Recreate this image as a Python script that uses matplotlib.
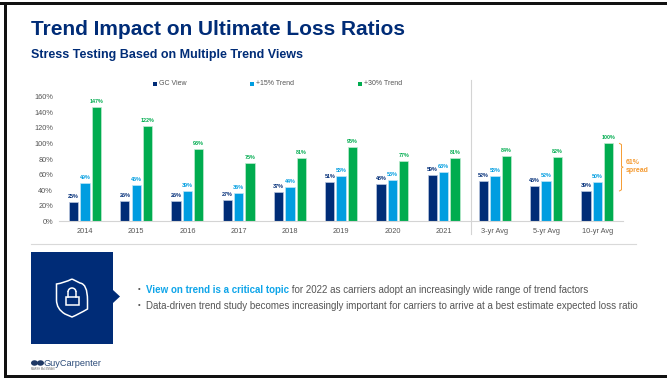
import numpy as np
import matplotlib
matplotlib.use('Agg')
import matplotlib.pyplot as plt
from matplotlib.patches import PathPatch, Rectangle, Polygon, Ellipse, Arc
from matplotlib.path import Path
from matplotlib.ticker import PercentFormatter
from matplotlib.transforms import blended_transform_factory

plt.rcParams['font.family'] = ['Liberation Sans', 'DejaVu Sans']

# Loss ratio data
categories = ['2014', '2015', '2016', '2017', '2018', '2019', '2020', '2021',
              '3-yr Avg', '5-yr Avg', '10-yr Avg']
gc_view = [25, 26, 26, 27, 37, 51, 48, 59, 52, 45, 39]
trend_15 = [49, 46, 39, 36, 44, 58, 53, 63, 58, 52, 50]
trend_30 = [147, 122, 93, 75, 81, 95, 77, 81, 84, 82, 100]
series_names = ['GC View', '+15% Trend', '+30% Trend']

NAVY = '#002C77'
BLUE = '#009DE0'
GREEN = '#00AC4F'
ORANGE = '#F59B32'
GREY = '#555555'
W, H = 667, 378

fig = plt.figure(figsize=(W / 100, H / 100), dpi=100, facecolor='white')

# Full-figure axes in pixels, used for the slide furniture
bg = fig.add_axes([0, 0, 1, 1])
bg.set_xlim(0, W)
bg.set_ylim(H, 0)
bg.axis('off')

# Slide frame
bg.add_patch(Rectangle((0, 2), W, 3, color='#111111', lw=0))
bg.add_patch(Rectangle((4, 2), 3, H, color='#111111', lw=0))
bg.add_patch(Rectangle((4, 375), W, 3, color='#111111', lw=0))

bg.text(31, 29.5, 'Trend Impact on Ultimate Loss Ratios', color=NAVY, fontsize=15.0,
        fontweight='bold', va='center', ha='left')
bg.text(31, 55, 'Stress Testing Based on Multiple Trend Views', color=NAVY, fontsize=9.02,
        fontweight='bold', va='center', ha='left')

# Legend
legend_x = [155, 252, 360]
for name, color, x in zip(series_names, [NAVY, BLUE, GREEN], legend_x):
    bg.add_patch(Rectangle((x - 2, 81.5), 4, 4, color=color, lw=0))
    bg.text(x + 4, 83.5, name, color=GREY, fontsize=5.0, va='center', ha='left')

# Dividers
bg.plot([471, 471], [80, 234], color='#d4d4d4', lw=0.8)
bg.plot([31, 636], [243.5, 243.5], color='#d9d9d9', lw=0.8)

# Blue panel with the shield and padlock
bg.add_patch(Rectangle((31, 252), 82, 92, color=NAVY, lw=0))
bg.add_patch(Polygon([(113, 290), (120, 296.5), (113, 303)], color=NAVY, lw=0))
shield = Path([(72, 279), (64, 283), (56.5, 284), (56.5, 300), (56.5, 309), (65, 314), (72, 317),
               (79, 314), (87.5, 309), (87.5, 300), (87.5, 284), (80, 283), (72, 279)],
              [Path.MOVETO, Path.CURVE3, Path.CURVE3, Path.LINETO, Path.CURVE3, Path.CURVE3, Path.LINETO,
               Path.CURVE3, Path.CURVE3, Path.LINETO, Path.CURVE3, Path.CURVE3, Path.LINETO])
bg.add_patch(PathPatch(shield, fc='none', ec='white', lw=1.1))
bg.add_patch(Rectangle((65.5, 297), 13, 8, fc='none', ec='white', lw=1.1))
bg.plot([68, 68], [297, 292], color='white', lw=1.1)
bg.plot([76, 76], [297, 292], color='white', lw=1.1)
bg.add_patch(Arc((72, 292), 8, 8, theta1=180, theta2=360, color='white', lw=1.1))

# Bullets
bg.text(138, 290, '•', color=GREY, fontsize=5.6, va='center', ha='left')
first = bg.text(146, 290, 'View on trend is a critical topic', color='#0FA5E9', fontsize=7,
                fontweight='bold', va='center', ha='left')
bg.annotate(' for 2022 as carriers adopt an increasingly wide range of trend factors', xy=(1, 0.5),
            xycoords=first, color=GREY, fontsize=7, va='center', ha='left')
bg.text(138, 306, '•', color=GREY, fontsize=5.6, va='center', ha='left')
bg.text(146, 306, 'Data-driven trend study becomes increasingly important for carriers to arrive at a '
        'best estimate expected loss ratio', color=GREY, fontsize=7, va='center', ha='left')

# Logo
bg.add_patch(Ellipse((34.5, 363), 7, 5.5, color='#1F3864', lw=0))
bg.add_patch(Ellipse((40.5, 363), 7, 5.5, color='#1F3864', lw=0))
bg.text(44, 363, 'GuyCarpenter', color='#2A4A78', fontsize=6.6, va='center', ha='left')
bg.text(31, 369.5, 'MARSH McLENNAN', color='#666666', fontsize=1.8, va='center', ha='left')

# Chart area
left, right, top, bottom = 59.3, 623, 96.7, 221.3
ax = fig.add_axes([left / W, 1 - bottom / H, (right - left) / W, (bottom - top) / H])
ax.patch.set_alpha(0)

x = np.arange(len(categories))
bar_step = 0.222
bar_width = 0.182
colors = [NAVY, BLUE, GREEN]
edges = ['#B9C6DE', '#BDE6F7', '#BFEBD1']

for i, values in enumerate([gc_view, trend_15, trend_30]):
    bars = ax.bar(x + (i - 1) * bar_step, values, bar_width, color=colors[i],
                  edgecolor=edges[i], linewidth=0.5)
    ax.bar_label(bars, labels=[f'{v}%' for v in values], padding=2.2, color=colors[i],
                 fontsize=3.9, fontweight='bold')

ax.set_xlim(-0.5, 10.5)
ax.set_ylim(0, 160)
ax.set_yticks(range(0, 161, 20))
ax.yaxis.set_major_formatter(PercentFormatter(decimals=0))
ax.set_xticks(x, categories)
ax.tick_params(axis='both', length=0, labelsize=5.3, labelcolor=GREY)
ax.tick_params(axis='x', pad=5)
ax.tick_params(axis='y', pad=4.5)
for s in ['top', 'right', 'left']:
    ax.spines[s].set_visible(False)
ax.spines['bottom'].set_color('#d4d4d4')
ax.spines['bottom'].set_linewidth(0.8)

# Spread bracket on the 10-yr average
spread_lo = gc_view[-1]
spread_hi = trend_30[-1]
spread_mid = (spread_lo + spread_hi) / 2
tr = blended_transform_factory(bg.transData, ax.transData)
ax.plot([619.5, 621.5, 621.5, 623, 621.5, 621.5, 619.5],
        [spread_hi, spread_hi - 1.5, spread_mid + 1, spread_mid, spread_mid - 1, spread_lo + 1.5, spread_lo],
        color=ORANGE, lw=0.7, transform=tr, clip_on=False)
ax.text(626, spread_mid + 1, f'{spread_hi - spread_lo}%\nspread', color=ORANGE, fontsize=5,
        fontweight='bold', va='center', ha='left', transform=tr, linespacing=1.25)

fig.savefig('out.png', dpi=100)
